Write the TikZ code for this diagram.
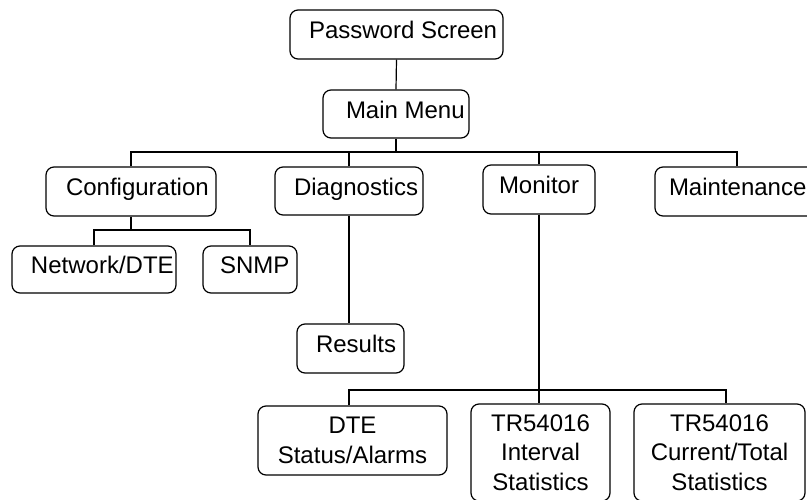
\documentclass[tikz,border=0pt]{standalone}
\usepackage{fontspec}
\setmainfont{Liberation Sans}
\tikzset{
  menufont/.style={font=\fontsize{24}{29.5}\selectfont},
  menubox/.style={draw, rounded corners=8pt, line width=1.2pt, inner sep=0pt,
    menufont, text height=18pt, text depth=10pt},
  multibox/.style={draw, rounded corners=8pt, line width=1.2pt, inner sep=0pt,
    menufont, align=center},
  link/.style={line width=1.2pt}
}
% box text set flush left after a given indent inside a box of given width
\newcommand\boxtext[3]{\makebox[#1][l]{\hspace*{#2}#3}}
\begin{document}
\begin{tikzpicture}[x=1pt,y=-1pt]
  \useasboundingbox (0,0) rectangle (807,499);
  \fill[white] (0,0) rectangle (807,499);
  \clip (0,0) rectangle (807,499);

  % menu screens
  \node[menubox, minimum width=213pt, minimum height=49pt] (pw) at (396.5,34.5) {\boxtext{213pt}{19pt}{Password Screen}};
  \node[menubox, minimum width=146pt, minimum height=48pt] (mm) at (396,114) {\boxtext{146pt}{23pt}{Main Menu}};

  \node[menubox, minimum width=170pt, minimum height=49pt] (cfg) at (131,191.5) {\boxtext{170pt}{20pt}{Configuration}};
  \node[menubox, minimum width=148pt, minimum height=48pt] (diag) at (349,191) {\boxtext{148pt}{19pt}{Diagnostics}};
  \node[menubox, minimum width=112pt, minimum height=49pt] (mon) at (539,189.5) {\boxtext{112pt}{16pt}{Monitor}};
  \node[menubox, minimum width=164pt, minimum height=49pt] (mnt) at (737,191.5) {\boxtext{164pt}{14pt}{Maintenance}};

  \node[menubox, minimum width=164pt, minimum height=47pt] (net) at (94,269.5) {\boxtext{164pt}{19pt}{Network/DTE}};
  \node[menubox, minimum width=94pt, minimum height=47pt] (snmp) at (250,269.5) {\boxtext{94pt}{17pt}{SNMP}};

  \node[menubox, minimum width=107pt, minimum height=49pt] (res) at (350.5,348.5) {\boxtext{107pt}{19pt}{Results}};

  \node[multibox, minimum width=189pt, minimum height=69pt] (dte) at (352.5,440.5) {DTE\\Status/Alarms};
  \node[multibox, minimum width=139pt, minimum height=97pt] (int) at (540.5,452.5) {TR54016\\Interval\\Statistics};
  \node[multibox, minimum width=171pt, minimum height=97pt] (cur) at (719.5,452.5) {TR54016\\Current/Total\\Statistics};

  % bus junctions
  \coordinate (mbus) at (396,152);
  \coordinate (cbus) at (131,230);
  \coordinate (bbus) at (539,390);

  % connectors
  \draw[link] (pw.south) -- (mm.north);
  \draw[link] (mm.south) -- (mbus);
  \draw[link] (cfg.north) |- (mbus) -| (mnt.north);
  \draw[link] (diag.north) -- (diag.north |- mbus);
  \draw[link] (mon.north) -- (mon.north |- mbus);

  \draw[link] (cfg.south) -- (cbus);
  \draw[link] (net.north) |- (cbus) -| (snmp.north);

  \draw[link] (diag.south) -- (diag.south |- res.north);

  \draw[link] (mon.south) -- (mon.south |- int.north);
  \draw[link] ([xshift=-3.5pt]dte.north) |- (bbus) -| ([xshift=6.5pt]cur.north);
\end{tikzpicture}
\end{document}
